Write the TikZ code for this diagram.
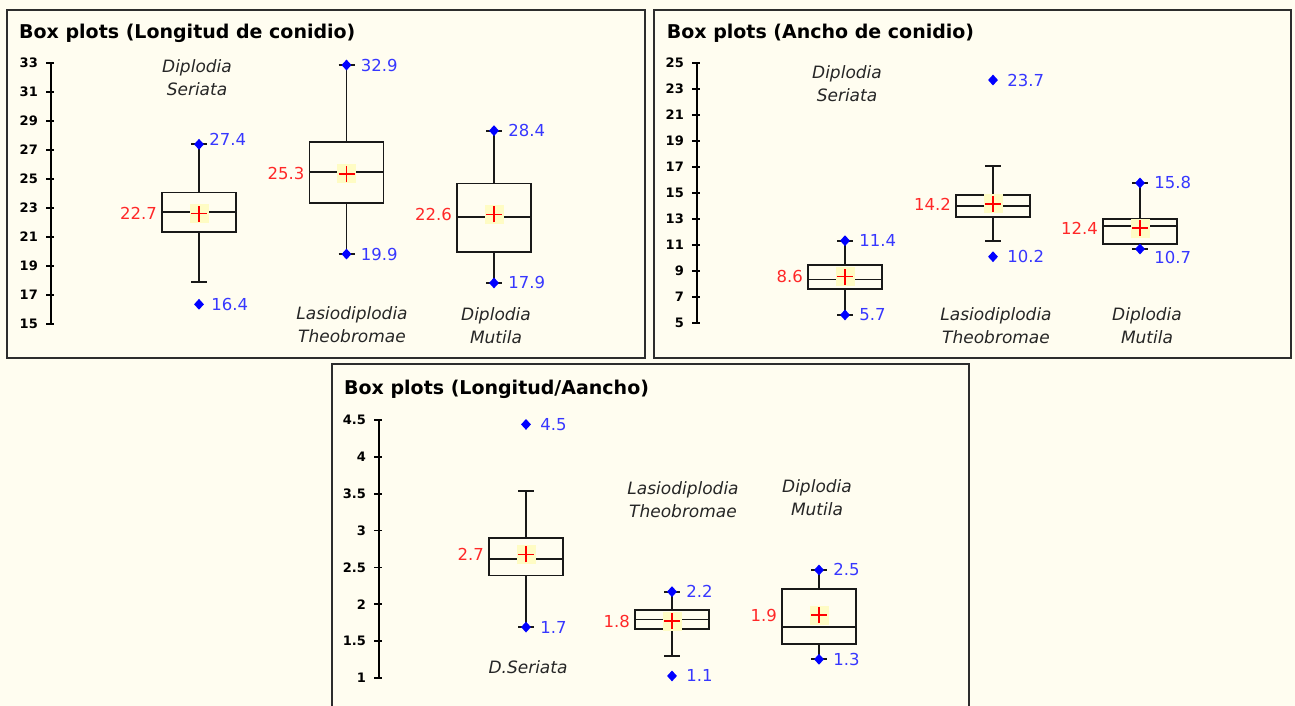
\documentclass[tikz,border=0pt]{standalone}
\usepackage{fontspec}
\setmainfont{DejaVu Sans}
\usetikzlibrary{shapes.geometric}

\definecolor{paper}{RGB}{255,253,240}
\definecolor{framecol}{RGB}{45,45,45}
\definecolor{ptblue}{RGB}{0,0,255}
\definecolor{valblue}{RGB}{55,55,255}
\definecolor{valred}{RGB}{255,40,40}
\definecolor{plusred}{RGB}{255,0,0}
\definecolor{meanfill}{RGB}{255,252,196}

\tikzset{
  frame/.style={draw=framecol, line width=1.6pt},
  ttl/.style={anchor=base west, inner sep=0pt, font=\fontsize{19}{22}\selectfont\bfseries},
  tick/.style={anchor=east, inner sep=0pt, font=\fontsize{13}{15}\selectfont\bfseries},
  axis/.style={draw=black, line width=1.7pt},
  spc/.style={anchor=base, align=center, inner sep=0pt, text=black!85, font=\fontsize{17}{23}\selectfont\itshape},
  whisk/.style={draw=black!90, line width=1.7pt},
  boxline/.style={draw=black!90, fill=paper, line width=1.7pt},
  meanbox/.style={fill=meanfill, minimum size=19pt, inner sep=0pt,
    path picture={\draw[plusred, line width=1.4pt]
      ([xshift=-8pt]path picture bounding box.center) -- ([xshift=8pt]path picture bounding box.center)
      ([yshift=-8pt]path picture bounding box.center) -- ([yshift=8pt]path picture bounding box.center);}},
  pt/.style={diamond, fill=ptblue, minimum width=10pt, minimum height=11pt, inner sep=0pt},
  vlab/.style={text=valblue, inner sep=0pt, xshift=9pt, font=\fontsize{16.5}{20}\selectfont},
  rlab/.style={anchor=east, text=valred, inner sep=0pt, font=\fontsize{16.5}{20}\selectfont},
}

% name, x, lo, q1, median, q3, hi, mean, mean text
\newcommand{\bplot}[9]{%
  \draw[whisk] (#2,#3) -- (#2,#7) (#2-8,#3) -- (#2+8,#3) (#2-8,#7) -- (#2+8,#7);
  \draw[boxline] (#2-37,#4) rectangle (#2+37,#6);
  \draw[boxline] (#2-37,#5) -- (#2+37,#5);
  \node[meanbox] (#1) at (#2,#8) {};
  \node[rlab] (#1t) at (#2-42,#8) {#9};
}

\begin{document}
\begin{tikzpicture}[x=1pt,y=-1pt]
  \fill[paper] (0,0) rectangle (1295,706);
  \useasboundingbox (0,0) rectangle (1295,706);

  \draw[frame] (7,10) rectangle (645,358);
  \draw[frame] (654,10) rectangle (1291,358);
  \draw[frame] (332,364) rectangle (969,720);

  % Longitud de conidio
  \node[ttl] (t1) at (19,39) {Box plots (Longitud de conidio)};
  \node[spc] (s11) at (197,96) {Diplodia\\Seriata};
  \node[spc] (s12) at (352,342) {Lasiodiplodia\\Theobromae};
  \node[spc] (s13) at (496,343) {Diplodia\\Mutila};
  \begin{scope}[shift={(0,541.86)}, y=14.52pt]
    \draw[axis] (51,15) -- (51,33);
    \foreach \v in {15,17,...,33} {
      \draw[axis] (46,\v) -- (54,\v);
      \node[tick] at (38,\v) {\v};
    }
    \bplot{m11}{199}{17.92}{21.32}{22.72}{24.07}{27.38}{22.6}{22.7}
    \node[pt, label={[vlab,xshift=-4pt,yshift=5pt]right:27.4}] (a11) at (199,27.38) {};
    \node[pt, label={[vlab,xshift=-2pt]right:16.4}] (b11) at (199,16.36) {};
    \bplot{m12}{346.5}{19.82}{23.34}{25.45}{27.56}{32.84}{25.34}{25.3}
    \node[pt, label={[vlab]right:32.9}] (a12) at (346.5,32.84) {};
    \node[pt, label={[vlab]right:19.9}] (b12) at (346.5,19.82) {};
    \bplot{m13}{494}{17.83}{19.96}{22.37}{24.69}{28.32}{22.56}{22.6}
    \node[pt, label={[vlab]right:28.4}] (a13) at (494,28.32) {};
    \node[pt, label={[vlab]right:17.9}] (b13) at (494,17.83) {};
  \end{scope}

  % Ancho de conidio
  \node[ttl] (t2) at (666.7,39) {Box plots (Ancho de conidio)};
  \node[spc] (s21) at (847,102) {Diplodia\\Seriata};
  \node[spc] (s22) at (996,343) {Lasiodiplodia\\Theobromae};
  \node[spc] (s23) at (1147,343) {Diplodia\\Mutila};
  \begin{scope}[shift={(0,388.45)}, y=13.03pt]
    \draw[axis] (697,5) -- (697,25);
    \foreach \v in {5,7,...,25} {
      \draw[axis] (692,\v) -- (700,\v);
      \node[tick] at (684,\v) {\v};
    }
    \bplot{m21}{845}{5.64}{7.63}{8.37}{9.47}{11.34}{8.58}{8.6}
    \node[pt, label={[vlab]right:11.4}] (a21) at (845,11.34) {};
    \node[pt, label={[vlab]right:5.7}] (b21) at (845,5.64) {};
    \bplot{m22}{993}{11.32}{13.16}{14.0}{14.85}{17.07}{14.16}{14.2}
    \node[pt, label={[vlab]right:23.7}] (a22) at (993,23.67) {};
    \node[pt, label={[vlab]right:10.2}] (b22) at (993,10.11) {};
    \bplot{m23}{1140}{10.7}{11.06}{12.47}{13.03}{15.77}{12.31}{12.4}
    \node[pt, label={[vlab]right:15.8}] (a23) at (1140,15.77) {};
    \node[pt, label={[vlab,yshift=-8pt]right:10.7}] (b23) at (1140,10.7) {};
  \end{scope}

  % Longitud/Ancho
  \node[ttl] (t3) at (344,394) {Box plots (Longitud/Aancho)};
  \node[spc] (s31) at (528,673) {D.Seriata};
  \node[spc] (s32) at (683,517) {Lasiodiplodia\\Theobromae};
  \node[spc] (s33) at (817,515) {Diplodia\\Mutila};
  \begin{scope}[shift={(0,751.65)}, y=73.7pt]
    \draw[axis] (379,1) -- (379,4.5);
    \foreach \v in {1,1.5,2,2.5,3,3.5,4,4.5} {
      \draw[axis] (374,\v) -- (382,\v);
      \node[tick] at (366,\v) {\v};
    }
    \bplot{m31}{526}{1.69}{2.39}{2.61}{2.903}{3.54}{2.678}{2.7}
    \node[pt, label={[vlab]right:4.5}] (a31) at (526,4.44) {};
    \node[pt, label={[vlab]right:1.7}] (b31) at (526,1.69) {};
    \bplot{m32}{672}{1.298}{1.664}{1.795}{1.922}{2.171}{1.772}{1.8}
    \node[pt, label={[vlab]right:2.2}] (a32) at (672,2.171) {};
    \node[pt, label={[vlab]right:1.1}] (b32) at (672,1.027) {};
    \bplot{m33}{819}{1.253}{1.464}{1.69}{2.211}{2.465}{1.854}{1.9}
    \node[pt, label={[vlab]right:2.5}] (a33) at (819,2.465) {};
    \node[pt, label={[vlab]right:1.3}] (b33) at (819,1.253) {};
  \end{scope}
\end{tikzpicture}
\end{document}
